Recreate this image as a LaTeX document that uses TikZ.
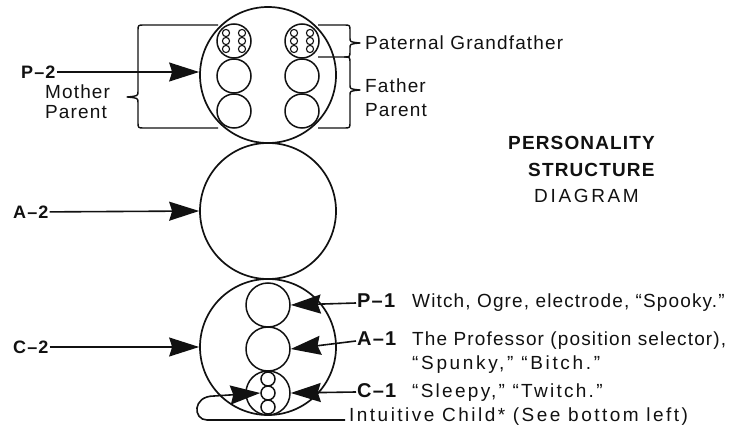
\documentclass[tikz,border=0pt]{standalone}
\usepackage{fontspec}
\setmainfont{Liberation Sans}[LetterSpace=6]
\usepackage{tikz}
\usetikzlibrary{calc,arrows.meta}
\definecolor{ink}{HTML}{111111}
\newcommand{\egotag}[1]{\makebox[55pt][l]{\fontsize{20}{20}\selectfont\bfseries #1}}
\tikzset{
  brace/.style={draw=ink, line width=1.4pt, line join=round},
  pointer/.style={draw=ink, line width=1.6pt, -{Stealth[length=30pt, width=19pt, inset=3pt]}},
  ring/.style={circle, draw=ink, line width=1.7pt, inner sep=0pt, minimum size=136pt},
  ego/.style={circle, draw=ink, line width=1.5pt, inner sep=0pt, minimum size=#1},
  dotring/.style={draw=ink, line width=1.1pt},
  lbl/.style={text=ink, font=\fontsize{19}{20}\selectfont, inner sep=1pt},
  tag/.style={text=ink, font=\fontsize{18}{20}\selectfont\bfseries, inner sep=1pt},
  title/.style={text=ink, font=\fontsize{19}{22}\selectfont, inner sep=0pt}
}

\begin{document}
\begin{tikzpicture}[x=1pt, y=-1pt]
  \useasboundingbox (0,0) rectangle (738,430);

  % the three ego states
  \node[ring] (P2) at (268,75) {};
  \node[ring] (A2) at (268,211) {};
  \node[ring] (C2) at (268,347) {};

  % mother and father inside P-2
  \foreach \side/\cx in {m/234, f/302} {
    \node[ego=34pt] (g\side) at (\cx,41) {};
    \node[ego=34pt] (pa\side) at (\cx,76) {};
    \node[ego=34pt] (pb\side) at (\cx,111) {};
    \foreach \i in {-8,8}
      \foreach \j in {-8,0,8}
        \draw[dotring] (\cx+\i,41+\j) circle (3.6pt);
  }

  % inside C-2
  \node[ego=44pt] (P1in) at (268,305) {};
  \node[ego=44pt] (A1in) at (268,349) {};
  \node[ego=44pt] (C1in) at (268,393) {};
  \foreach \k/\y in {1/379, 2/393, 3/407}
    \node[ego=14pt] (kid\k) at (268,\y) {};

  % left side
  \node[tag, anchor=west] (p2) at (20,72) {P--2};
  \node[lbl, anchor=north west, align=left] (mother) at (44,84) {Mother\\Parent};
  \node[tag, anchor=west] (a2) at (12,212) {A--2};
  \node[tag, anchor=west] (c2) at (12,347) {C--2};
  \draw[pointer] (p2) -- (p2 -| P2.west);
  \draw[pointer] (a2) -- (A2.west);
  \draw[pointer] (c2) -- (C2.west);

  \draw[brace] (218,25) -- (144,25) .. controls (138,25) .. (138,31) -- (138,91)
    .. controls (138,96) .. (127,97) .. controls (138,98) .. (138,103) -- (138,122)
    .. controls (138,128) .. (144,128) -- (218,128);

  % right side of P-2
  \draw[brace] (318,25) -- (344,25) .. controls (350,25) .. (350,31) -- (350,38)
    .. controls (350,42) .. (360,43) .. controls (350,44) .. (350,48) -- (350,51)
    .. controls (350,57) .. (344,57) -- (318,57);
  \draw[brace] (344,57) .. controls (350,57) .. (350,63) -- (350,85)
    .. controls (350,89) .. (360,90) .. controls (350,91) .. (350,95) -- (350,122)
    .. controls (350,128) .. (344,128) -- (318,128);
  \node[lbl, anchor=west] (gpa) at (364,43) {Paternal Grandfather};
  \node[lbl, anchor=north west, align=left] (father) at (364,78) {Father\\[4pt]Parent};

  \node[title, anchor=west, font=\fontsize{19}{22}\selectfont\bfseries] (t1) at (508,143) {PERSONALITY};
  \node[title, anchor=west, font=\fontsize{19}{22}\selectfont\bfseries] (t2) at (528,170) {STRUCTURE};
  \node[title, anchor=west, font=\fontsize{19}{22}\selectfont\addfontfeature{LetterSpace=14}] (t3) at (534,196) {DIAGRAM};

  % right side of C-2
  \node[lbl, anchor=west] (p1) at (356,303) {\egotag{P--1}Witch, Ogre, electrode, ``Spooky.''};
  \node[lbl, anchor=west] (a1) at (356,341) {\egotag{A--1}The Professor (position selector),};
  \node[lbl, anchor=base west] (a1b) at ([yshift=-24pt]a1.base west) {\hspace*{55pt}\addfontfeature{LetterSpace=14}``Spunky,'' ``Bitch.''};
  \node[lbl, anchor=west] (c1) at (356,392) {\egotag{C--1}\addfontfeature{LetterSpace=12}``Sleepy,'' ``Twitch.''};
  \node[lbl, anchor=west, inner sep=4pt, font=\fontsize{19}{20}\selectfont\addfontfeature{LetterSpace=13}] (ic) at (345,417) {Intuitive Child* (See bottom left)};
  \draw[pointer] (p1.west) -- (P1in.east);
  \draw[pointer] (a1.west) -- (A1in.east);
  \draw[pointer] (c1.west) -- (C1in.east);

  \coordinate (bend) at (207,420);
  \draw[pointer] (ic.west |- bend) -- (bend) .. controls (193,420) and (192,396) .. (214,396) -- (kid2.west);
\end{tikzpicture}
\end{document}
